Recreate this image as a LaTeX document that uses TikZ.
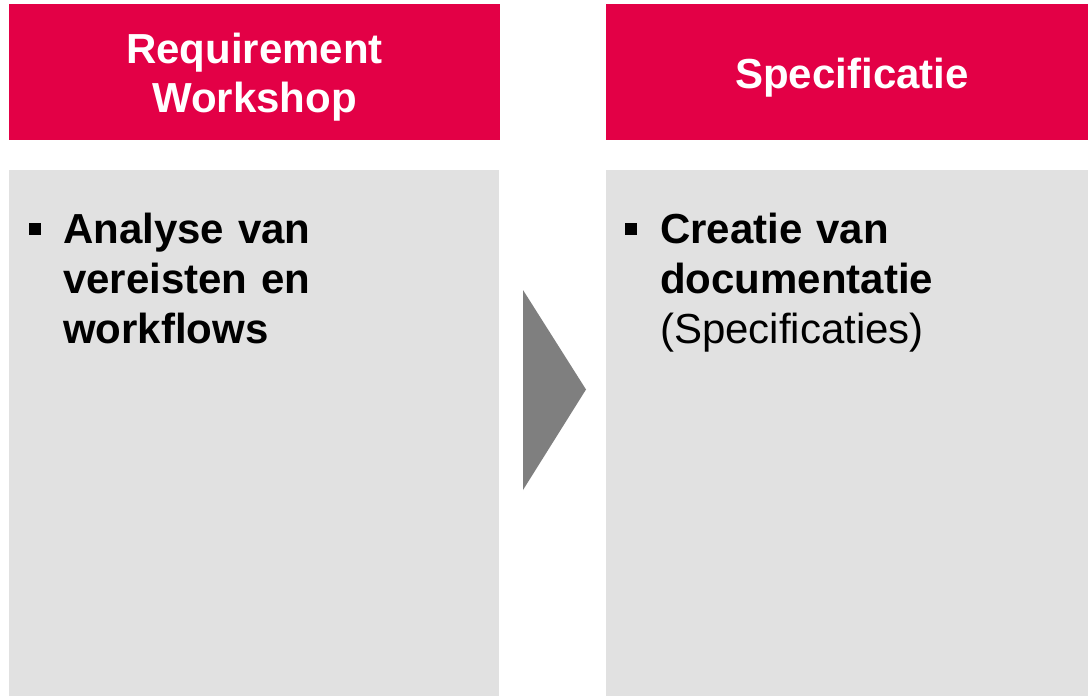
\documentclass[tikz,border=0pt]{standalone}
\usepackage{fontspec}
\setmainfont{Liberation Sans}
\definecolor{hdrred}{HTML}{E30046}
\definecolor{boxgray}{HTML}{E1E1E1}
\definecolor{arrowgray}{HTML}{7F7F7F}
\begin{document}
\begin{tikzpicture}[x=1pt,y=-1pt,
  hdrbox/.style={fill=hdrred,draw=none},
  bodybox/.style={fill=boxgray,draw=none},
  hdrtext/.style={text=white,font=\fontsize{42}{50}\selectfont\bfseries,text width=460pt,align=center,inner sep=0pt,anchor=base},
  bodytext/.style={text=black,font=\fontsize{42}{50}\selectfont,text width=420pt,align=left,inner sep=0pt,anchor=base west},
  bulletsq/.style={fill=black,draw=none,minimum size=12pt,inner sep=0pt,rectangle}]
\useasboundingbox (0,0) rectangle (1088,696);
\fill[white] (0,0) rectangle (1088,696);
% boxes
\path[hdrbox] (9,4) rectangle (500,140);
\path[hdrbox] (606,4) rectangle (1088,140);
\path[bodybox] (9,170) rectangle (499,696);
\path[bodybox] (606,170) rectangle (1088,696);
% arrow
\fill[arrowgray] (523,290) -- (586,389.5) -- (523,490) -- cycle;
% header texts
\node[hdrtext] (h1) at (254.5,63) {Requirement\\Workshop};
\node[hdrtext] (h2) at (852,88) {Specificatie};
% bullets
\node[bulletsq] (b1) at (34.5,229) {};
\node[bulletsq] (b2) at (631,229) {};
% body texts
\node[bodytext] (t1) at (63,243) {\bfseries Analyse van\\vereisten en\\workflows};
\node[bodytext] (t2) at (660,243) {\textbf{Creatie van}\\\textbf{documentatie}\\(Specificaties)};
\end{tikzpicture}
\end{document}
